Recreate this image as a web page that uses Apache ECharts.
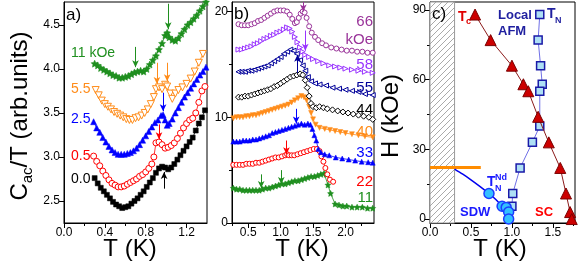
<!DOCTYPE html>
<html><head><meta charset="utf-8">
<script src="https://cdn.jsdelivr.net/npm/echarts@6/dist/echarts.min.js"></script>
<style>html,body{margin:0;padding:0;background:#fff}#c{width:581px;height:271px}</style>
</head><body><div id="c"></div>
<script>
// ---------- Panel a: Cac/T vs T (fields in kOe) ----------
const a00 = [[0.3,2.76],[0.33,2.7],[0.36,2.65],[0.39,2.61],[0.42,2.57],[0.45,2.53],[0.48,2.49],[0.51,2.46],[0.54,2.44],[0.57,2.42],[0.6,2.43],[0.63,2.44],[0.66,2.47],[0.69,2.5],[0.72,2.53],[0.75,2.57],[0.78,2.61],[0.81,2.66],[0.84,2.71],[0.87,2.76],[0.9,2.82],[0.93,2.87],[0.96,2.89],[0.99,2.88],[1.02,2.86],[1.05,2.88],[1.08,2.92],[1.11,2.97],[1.14,3.02],[1.17,3.07],[1.2,3.12],[1.23,3.17],[1.26,3.22],[1.29,3.3],[1.32,3.38],[1.35,3.45],[1.38,3.53]];
const a05 = [[0.29,3.01],[0.32,2.95],[0.35,2.9],[0.38,2.84],[0.41,2.79],[0.44,2.74],[0.47,2.7],[0.5,2.68],[0.53,2.66],[0.56,2.66],[0.59,2.67],[0.62,2.69],[0.65,2.71],[0.68,2.73],[0.71,2.75],[0.74,2.78],[0.77,2.8],[0.8,2.83],[0.83,2.87],[0.86,2.92],[0.88,3.0],[0.9,3.16],[0.93,3.17],[0.96,3.14],[0.99,3.1],[1.02,3.11],[1.05,3.13],[1.08,3.16],[1.11,3.21],[1.14,3.27],[1.17,3.33],[1.2,3.38],[1.23,3.42],[1.26,3.44],[1.29,3.5],[1.32,3.62],[1.35,3.75],[1.38,3.8]];
const a25 = [[0.29,3.4],[0.32,3.33],[0.35,3.28],[0.38,3.22],[0.41,3.17],[0.44,3.12],[0.47,3.08],[0.5,3.05],[0.53,3.03],[0.56,3.03],[0.59,3.03],[0.62,3.04],[0.65,3.05],[0.68,3.07],[0.71,3.1],[0.74,3.14],[0.77,3.19],[0.8,3.24],[0.83,3.29],[0.86,3.34],[0.89,3.39],[0.92,3.42],[0.95,3.47],[0.97,3.48],[0.99,3.42],[1.01,3.36],[1.03,3.38],[1.06,3.43],[1.09,3.5],[1.12,3.56],[1.15,3.62],[1.18,3.68],[1.21,3.73],[1.24,3.78],[1.27,3.83],[1.3,3.88],[1.33,3.93],[1.36,3.97],[1.39,4.02]];
const a55 = [[0.31,3.76],[0.34,3.7],[0.37,3.64],[0.4,3.6],[0.43,3.57],[0.46,3.54],[0.49,3.51],[0.52,3.49],[0.55,3.47],[0.58,3.45],[0.61,3.43],[0.64,3.42],[0.67,3.42],[0.7,3.44],[0.73,3.45],[0.76,3.47],[0.79,3.5],[0.82,3.54],[0.85,3.6],[0.88,3.68],[0.9,3.77],[0.93,3.79],[0.96,3.77],[0.99,3.82],[1.01,3.8],[1.04,3.72],[1.06,3.66],[1.09,3.72],[1.12,3.76],[1.16,3.79],[1.2,3.83],[1.24,3.89],[1.28,3.97],[1.32,4.07],[1.36,4.17]];
const a11 = [[0.3,4.06],[0.33,4.04],[0.36,4.01],[0.39,3.99],[0.42,3.97],[0.45,3.95],[0.48,3.93],[0.51,3.92],[0.54,3.9],[0.57,3.9],[0.6,3.91],[0.63,3.92],[0.66,3.94],[0.69,3.96],[0.72,3.97],[0.75,3.98],[0.78,3.97],[0.81,4.0],[0.84,4.05],[0.87,4.1],[0.9,4.15],[0.93,4.22],[0.96,4.29],[0.99,4.38],[1.01,4.41],[1.03,4.36],[1.06,4.33],[1.09,4.32],[1.12,4.35],[1.15,4.4],[1.18,4.45],[1.21,4.5],[1.24,4.53],[1.27,4.57],[1.3,4.61],[1.33,4.66],[1.36,4.71],[1.39,4.76]];
// arrows: [T, from, to]
const arrA11 = [[0.70,4.25,4.02],[1.02,4.74,4.45]];
const arrA55 = [[0.91,4.07,3.83],[1.01,4.07,3.86]];
const arrA25 = [[0.97,3.73,3.52]];
const arrA05 = [[0.93,3.37,3.2]];
const arrA00 = [[0.98,2.64,2.83]];
const labelsA = [['11 kOe',53,'#1f8f1f'],['5.5',89,'#ff8c1a'],['2.5',119,'#0000ff'],['0.5',156,'#ff0000'],['0.0',179,'#000000']];
const ticksAx = [0,0.4,0.8,1.2], minorAx = [0.2,0.6,1.0];
const ticksAy = [2.5,3.0,3.5,4.0,4.5];

// ---------- Panel b: offset curves (fields in kOe) ----------
const b66 = [[0.35,18.8],[0.4,18.7],[0.45,18.7],[0.5,18.7],[0.55,18.8],[0.6,18.9],[0.65,19.1],[0.7,19.2],[0.75,19.4],[0.8,19.6],[0.85,19.8],[0.9,20.0],[0.95,20.1],[1.0,20.1],[1.05,20.1],[1.1,20.0],[1.14,19.7],[1.18,19.3],[1.22,18.9],[1.25,19.0],[1.28,19.4],[1.31,19.8],[1.34,20.0],[1.37,19.9],[1.4,19.4],[1.44,18.6],[1.48,18.0],[1.53,17.6],[1.58,17.3],[1.64,17.0],[1.7,16.8],[1.78,16.6],[1.86,16.5],[1.94,16.4],[2.02,16.3],[2.1,16.3],[2.18,16.2],[2.26,16.2],[2.34,16.1],[2.42,16.1]];
const b58 = [[0.35,16.4],[0.4,16.4],[0.45,16.5],[0.5,16.6],[0.55,16.7],[0.6,16.9],[0.65,17.0],[0.7,17.2],[0.75,17.4],[0.8,17.5],[0.85,17.7],[0.9,17.8],[0.95,18.0],[1.0,18.1],[1.05,18.3],[1.1,18.5],[1.14,18.4],[1.18,18.1],[1.22,17.6],[1.26,17.1],[1.3,16.6],[1.34,16.2],[1.38,15.9],[1.44,15.7],[1.5,15.5],[1.58,15.3],[1.66,15.1],[1.75,14.9],[1.84,14.8],[1.92,14.7],[2.0,14.6],[2.1,14.5],[2.2,14.4],[2.3,14.3],[2.42,14.2]];
const b55 = [[0.35,14.3],[0.4,14.3],[0.45,14.3],[0.5,14.4],[0.55,14.4],[0.6,14.5],[0.65,14.6],[0.7,14.7],[0.75,14.8],[0.8,14.9],[0.85,15.1],[0.9,15.3],[0.95,15.5],[1.0,15.7],[1.05,16.0],[1.1,16.2],[1.15,16.4],[1.2,16.3],[1.25,16.0],[1.3,15.4],[1.34,14.9],[1.38,14.4],[1.42,13.8],[1.47,13.4],[1.53,13.2],[1.6,13.1],[1.7,13.0],[1.8,12.8],[1.9,12.7],[2.0,12.6],[2.1,12.5],[2.2,12.4],[2.3,12.2],[2.42,12.1]];
const b44 = [[0.35,11.9],[0.4,11.9],[0.45,12.0],[0.5,12.0],[0.55,12.1],[0.6,12.2],[0.65,12.3],[0.7,12.4],[0.75,12.5],[0.8,12.6],[0.85,12.7],[0.9,12.9],[0.95,13.0],[1.0,13.2],[1.05,13.4],[1.1,13.6],[1.15,13.8],[1.2,13.9],[1.25,14.0],[1.3,14.1],[1.34,14.0],[1.38,13.5],[1.41,12.8],[1.44,12.0],[1.47,11.3],[1.5,11.0],[1.55,10.9],[1.6,11.0],[1.66,10.9],[1.72,10.8],[1.8,10.7],[1.88,10.6],[1.96,10.5],[2.04,10.4],[2.12,10.3],[2.2,10.2],[2.28,10.1],[2.36,10.0],[2.42,9.8]];
const b40 = [[0.27,9.9],[0.32,10.0],[0.37,10.0],[0.42,10.0],[0.47,10.1],[0.52,10.1],[0.57,10.2],[0.62,10.2],[0.67,10.3],[0.72,10.4],[0.77,10.5],[0.82,10.6],[0.87,10.7],[0.92,10.8],[0.97,10.9],[1.02,11.0],[1.07,11.1],[1.12,11.2],[1.17,11.4],[1.22,11.6],[1.27,11.8],[1.32,12.0],[1.36,11.9],[1.4,11.6],[1.44,11.0],[1.47,10.4],[1.5,9.8],[1.54,9.3],[1.6,9.0],[1.68,8.9],[1.76,8.8],[1.84,8.7],[1.92,8.6],[2.0,8.5],[2.1,8.4],[2.2,8.3],[2.3,8.2],[2.42,8.1]];
const b33 = [[0.27,7.7],[0.32,7.7],[0.37,7.7],[0.42,7.8],[0.47,7.8],[0.52,7.8],[0.57,7.9],[0.62,7.9],[0.67,8.0],[0.72,8.1],[0.77,8.2],[0.82,8.3],[0.87,8.5],[0.92,8.6],[0.97,8.7],[1.02,8.8],[1.07,8.9],[1.12,9.0],[1.17,9.1],[1.22,9.2],[1.27,9.3],[1.32,9.4],[1.37,9.3],[1.42,9.4],[1.46,9.3],[1.49,8.9],[1.52,8.3],[1.55,7.8],[1.58,7.0],[1.62,6.7],[1.68,6.5],[1.75,6.4],[1.85,6.2],[1.95,6.1],[2.05,6.0],[2.15,5.9],[2.25,5.8],[2.35,5.75],[2.42,5.7]];
const b22 = [[0.27,5.5],[0.32,5.5],[0.37,5.5],[0.42,5.5],[0.47,5.6],[0.52,5.6],[0.57,5.6],[0.62,5.7],[0.67,5.7],[0.72,5.8],[0.77,5.9],[0.82,6.0],[0.87,6.1],[0.92,6.2],[0.97,6.2],[1.02,6.3],[1.07,6.4],[1.1,6.5],[1.13,6.4],[1.17,6.4],[1.21,6.4],[1.26,6.5],[1.31,6.6],[1.36,6.7],[1.41,6.8],[1.46,6.9],[1.51,7.0],[1.56,7.0],[1.6,6.8],[1.63,6.3],[1.66,5.8],[1.69,5.2],[1.72,4.6],[1.76,4.1],[1.81,3.9]];
const b11 = [[0.27,3.3],[0.32,3.2],[0.37,3.2],[0.42,3.1],[0.47,3.1],[0.52,3.1],[0.57,3.1],[0.62,3.1],[0.67,3.1],[0.72,3.2],[0.77,3.3],[0.82,3.3],[0.87,3.4],[0.92,3.5],[0.97,3.6],[1.02,3.7],[1.07,3.7],[1.12,3.8],[1.17,3.9],[1.22,4.0],[1.27,4.0],[1.32,4.1],[1.37,4.2],[1.42,4.3],[1.47,4.4],[1.52,4.4],[1.57,4.5],[1.62,4.6],[1.67,4.7],[1.7,4.6],[1.73,3.6],[1.77,2.8],[1.84,1.8],[1.9,1.7],[1.96,1.6],[2.02,1.6],[2.1,1.5],[2.18,1.5],[2.26,1.5],[2.34,1.4],[2.42,1.4]];
const arrB66 = [[1.35,20.9,20.0]];
const arrB58 = [[1.38,18.2,16.3]];
const arrB55 = [[1.26,14.2,15.9]];
const arrB33 = [[1.24,10.8,9.4]];
const arrB22 = [[1.09,7.8,6.5]];
const arrB11 = [[0.7,4.6,3.3],[1.01,5.0,3.7]];
const labelsB = [['66',22,'#993399'],['kOe',40,'#993399'],['58',65,'#9933ff'],['55',88,'#000099'],['44',110,'#000000'],['40',132,'#ff8c1a'],['33',153,'#0000ff'],['22',182,'#ff0000'],['11',198,'#1f8f1f']];
const ticksBx = [0.5,1.0,1.5,2.0], minorBx = [0.25,0.75,1.25,1.75,2.25];
const ticksBy = [0,10,20], minorBy = [5,15];

// ---------- Panel c: H-T phase diagram ----------
const tcData = [[0.55,88],[0.74,77],[1.0,66],[1.14,58],[1.2,55],[1.32,44],[1.45,33],[1.59,22],[1.66,11],[1.71,3],[1.73,0]];
const tnData = [[1.34,88],[1.32,77],[1.35,66],[1.37,58],[1.34,55],[1.34,40],[1.25,33],[1.1,22],[1.01,11],[1.0,5.5]];
const tnNdData = [[0.72,11],[0.88,5.5],[0.93,5],[0.96,3],[0.96,0]];
const sdwLine = [[0.3,21.5],[0.4,19.3],[0.5,16.9],[0.6,14.3],[0.72,11],[0.8,8.5],[0.88,5.5],[0.93,3],[0.96,0]];
const orangeLine = [[0,22.2],[0.62,22.2]];
const hatchT = [0,0.3];
const ticksCx = [0,0.5,1.0,1.5], minorCx = [0.25,0.75,1.25,1.75];
const ticksCy = [0,30,60,90], minorCy = [15,45,75];

const FONT = '"Liberation Sans", Arial, Helvetica, sans-serif';
const STAR = 'path://M0,-10L2.94,-4.05L9.51,-3.09L4.76,1.55L5.88,8.09L0,5L-5.88,8.09L-4.76,1.55L-9.51,-3.09L-2.94,-4.05Z';

function major(gi, min, max, ticks, dec) {
  return {type:'value', gridIndex:gi, min, max,
    axisLine:{show:true, onZero:false, lineStyle:{color:'#000', width:1}},
    axisTick:{show:true, inside:false, length:5, customValues:ticks, lineStyle:{color:'#000', width:1}},
    axisLabel:{show:true, customValues:ticks, margin:4, fontSize:12, color:'#000', fontFamily:FONT,
      formatter:(v)=>Number(v).toFixed(dec)},
    splitLine:{show:false}};
}
function minor(gi, min, max, ticks, pos) {
  return {type:'value', gridIndex:gi, min, max, position:pos,
    axisLine:{show:false, onZero:false},
    axisTick:{show:ticks.length>0, inside:false, length:3, customValues:ticks.length?ticks:[min], lineStyle:{color:'#000', width:1}},
    axisLabel:{show:false}, splitLine:{show:false}};
}
function arrowML(color, arr) {
  return {silent:true, symbol:['none','arrow'], symbolSize:[5,7], animation:false,
    lineStyle:{color, width:1, type:'solid'}, label:{show:false},
    data: arr.map(a=>[{coord:[a[0],a[1]]},{coord:[a[0],a[2]]}])};
}
function ser(xi, yi, data, color, symbol, o) {
  o = o || {};
  const s = {type:'line', xAxisIndex:xi, yAxisIndex:yi, data, symbol, symbolSize:o.size||6,
    symbolRotate:o.rot||0, showAllSymbol:true, animation:false, z:o.z||2,
    itemStyle:{color:o.open?'#ffffff':color, borderColor:o.border||color, borderWidth:o.bw!=null?o.bw:(o.open?1:0.5)},
    lineStyle:{color:o.lineColor||color, width:o.lw!=null?o.lw:0.8, opacity:o.noLine?0:1},
    emphasis:{disabled:true}};
  if (o.arrows) s.markLine = arrowML(color, o.arrows);
  return s;
}

// hatch pattern
const pc = document.createElement('canvas'); pc.width = 6; pc.height = 6;
const g = pc.getContext('2d');
g.fillStyle = '#ffffff'; g.fillRect(0,0,6,6);
g.strokeStyle = '#aaaaaa'; g.lineWidth = 1;
g.beginPath(); g.moveTo(0,6); g.lineTo(6,0); g.moveTo(-1,1); g.lineTo(1,-1); g.moveTo(5,7); g.lineTo(7,5); g.stroke();

const GREEN='#1f8f1f', ORANGE='#ff8c1a', BLUE='#0000ff', RED='#ff0000', PURPLE='#993399', VIOLET='#9933ff', NAVY='#000099';

const chart = echarts.init(document.getElementById('c'), null, {renderer:'canvas'});

const graphics = [];
function txt(x, y, text, o) {
  o = o || {};
  graphics.push({type:'text', x, y, rotation:o.rot||0, z:100, silent:true,
    style:{text, fill:o.color||'#000', fontSize:o.size||14, fontFamily:FONT, fontWeight:o.weight||'normal',
      align:o.align||'left', verticalAlign:o.va||'middle', rich:o.rich}});
}
// axis titles
txt(20, 116, '{a|C}{s|ac}{a|/T (arb.units)}', {rot:Math.PI/2, align:'center', size:24,
  rich:{a:{fontSize:24, fontFamily:FONT, lineHeight:30, verticalAlign:'middle'}, s:{fontSize:15, fontFamily:FONT, lineHeight:30, verticalAlign:'bottom', padding:[0,0,0,0]}}});
txt(391, 116, 'H (kOe)', {rot:Math.PI/2, align:'center', size:24});
txt(130, 249, 'T (K)', {align:'center', size:24});
txt(302, 249, 'T (K)', {align:'center', size:24});
txt(500, 249, 'T (K)', {align:'center', size:24});
// panel tags
txt(66, 15, 'a)', {size:17});
txt(234, 14, 'b)', {size:17});
txt(432, 14, 'c)', {size:17});
labelsA.forEach(l=>txt(71, l[1], l[0], {color:l[2], size:14}));
labelsB.forEach(l=>txt(373, l[1], l[0], {color:l[2], size:15, align:'right'}));
// panel c annotations
txt(458, 17, 'T', {color:'#e00000', size:14, weight:'bold'});
txt(466, 22, 'c', {color:'#e00000', size:9, weight:'bold'});
txt(498, 15, 'Local', {color:'#1f1f9f', size:13, weight:'bold'});
txt(498, 31, 'AFM', {color:'#1f1f9f', size:13, weight:'bold'});
txt(547, 14, 'T', {color:'#1f1f9f', size:14, weight:'bold'});
txt(555, 21, 'N', {color:'#1f1f9f', size:9, weight:'bold'});
txt(487, 182, 'T', {color:'#1a1aff', size:14, weight:'bold'});
txt(495, 178, 'Nd', {color:'#1a1aff', size:9, weight:'bold'});
txt(495, 189, 'N', {color:'#1a1aff', size:9, weight:'bold'});
txt(460, 212, 'SDW', {color:'#1a1aff', size:13, weight:'bold'});
txt(535, 212, 'SC', {color:'#ff0000', size:13, weight:'bold'});

const grids = [
  {left:64, top:2, width:143, height:221},
  {left:232, top:2, width:142, height:221},
  {left:430, top:2, width:145, height:221}
].map(gd=>Object.assign(gd, {show:true, borderColor:'#000', borderWidth:1, backgroundColor:'transparent', containLabel:false}));

const option = {
  animation:false,
  grid: grids,
  xAxis: [
    major(0, 0, 1.4, ticksAx, 1), minor(0, 0, 1.4, minorAx, 'bottom'),
    major(1, 0.25, 2.44, ticksBx, 1), minor(1, 0.25, 2.44, minorBx, 'bottom'),
    major(2, 0, 1.77, ticksCx, 1), minor(2, 0, 1.77, minorCx, 'bottom')
  ].map(a=>Object.assign(a,{position:'bottom'})),
  yAxis: [
    major(0, 2.25, 4.76, ticksAy, 1), minor(0, 2.25, 4.76, [], 'left'),
    major(1, 0, 20.9, ticksBy, 0), minor(1, 0, 20.9, minorBy, 'left'),
    major(2, -1.7, 93.4, ticksCy, 0), minor(2, -1.7, 93.4, minorCy, 'left')
  ].map(a=>Object.assign(a,{position:'left'})),
  graphic: graphics,
  series: [
    // panel a
    ser(0,0,a00,'#000000','rect',{size:5, arrows:arrA00}),
    ser(0,0,a05,RED,'circle',{size:6, open:true, arrows:arrA05}),
    ser(0,0,a25,BLUE,'triangle',{size:6, arrows:arrA25}),
    ser(0,0,a55,ORANGE,'triangle',{size:7, rot:180, open:true, arrows:arrA55}),
    ser(0,0,a11,GREEN,STAR,{size:7, arrows:arrA11}),
    // panel b
    ser(2,2,b11,GREEN,STAR,{size:6, arrows:arrB11}),
    ser(2,2,b22,RED,'circle',{size:5, open:true, arrows:arrB22}),
    ser(2,2,b33,BLUE,'triangle',{size:5, arrows:arrB33}),
    ser(2,2,b40,ORANGE,'triangle',{size:5, rot:180}),
    ser(2,2,b44,'#000000','diamond',{size:6, open:true}),
    ser(2,2,b55,NAVY,'triangle',{size:5, rot:90, open:true, arrows:arrB55}),
    ser(2,2,b58,VIOLET,'triangle',{size:5, rot:-90, open:true, arrows:arrB58}),
    ser(2,2,b66,PURPLE,'circle',{size:5, open:true, arrows:arrB66}),
    // panel c
    Object.assign(ser(4,4,orangeLine,'#ff8c00','none',{lw:3, z:3}), {
      markArea:{silent:true, animation:false, itemStyle:{color:{image:pc, repeat:'repeat'}, borderColor:'#999999', borderWidth:1},
        data:[[{xAxis:hatchT[0], yAxis:-1.7},{xAxis:hatchT[1], yAxis:93.4}]]}}),
    Object.assign(ser(4,4,sdwLine,'#0000ee','none',{lw:1.5, z:3}), {smooth:0.3}),
    ser(4,4,tnData,'#1a1aa8','rect',{size:8, bw:1.5, lineColor:'#4a4ae0', lw:0.8, z:4}),
    ser(4,4,tnNdData,'#1a3cff','circle',{size:10, bw:1.5, noLine:true, z:5}),
    ser(4,4,tcData,'#cc0000','triangle',{size:11, bw:1, border:'#7a0000', lineColor:'#8b1a1a', lw:1, z:6})
  ]
};
// fills for panel c symbols
option.series[option.series.length-3].itemStyle.color = '#aee0f5';
option.series[option.series.length-2].itemStyle.color = '#33c0ff';
chart.setOption(option);
</script>
</body></html>
